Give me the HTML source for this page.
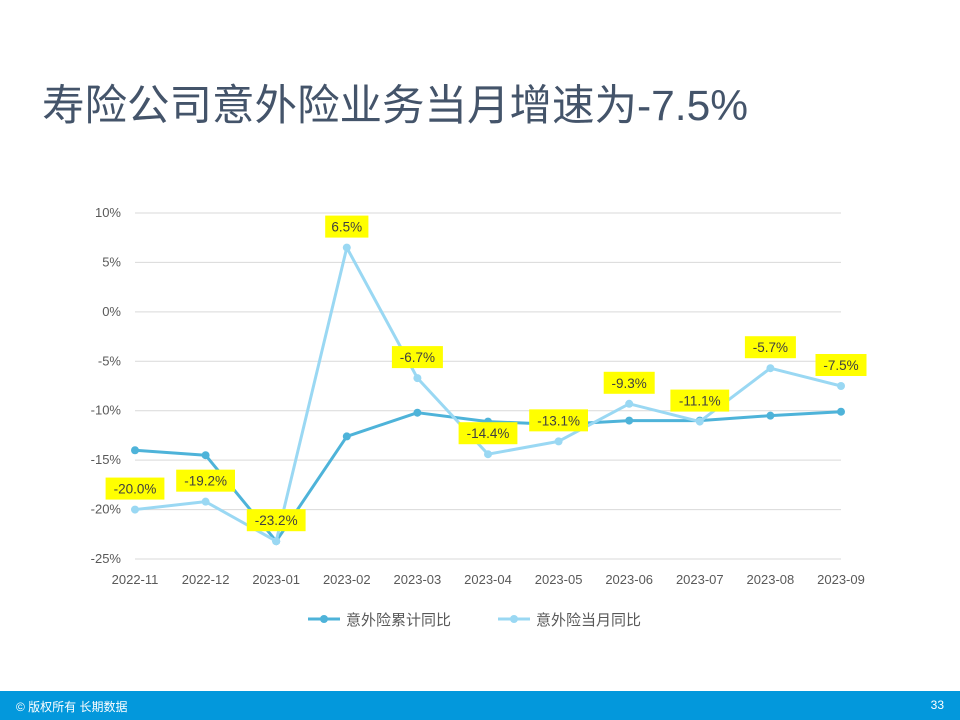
<!DOCTYPE html>
<html><head><meta charset="utf-8"><style>
body{margin:0;width:960px;height:720px;background:#fff;position:relative;overflow:hidden;font-family:"Liberation Sans","Noto Sans CJK SC",sans-serif}
#title{position:absolute;left:42px;top:72px;font-size:42.5px;color:#44546a;white-space:nowrap}
#footer{position:absolute;left:0;top:691px;width:960px;height:29px;background:#0398dc;color:#fff;font-size:12px}
</style></head><body>
<div id="title">寿险公司意外险业务当月增速为-7.5%</div>
<svg id="chart" width="960" height="691" style="position:absolute;left:0;top:0" font-family="Liberation Sans, Noto Sans CJK SC, sans-serif"></svg>
<div id="footer">
<span style="position:absolute;left:16px;top:7px">© 版权所有 长期数据</span>
<span style="position:absolute;right:16px;top:7px">33</span>
</div>
<script>
const categories=["2022-11","2022-12","2023-01","2023-02","2023-03","2023-04","2023-05","2023-06","2023-07","2023-08","2023-09"];
const cumulative=[-14.0,-14.5,-23.2,-12.6,-10.2,-11.1,-11.4,-11.0,-11.0,-10.5,-10.1];
const monthly=[-20.0,-19.2,-23.2,6.5,-6.7,-14.4,-13.1,-9.3,-11.1,-5.7,-7.5];
const yTicks=[10,5,0,-5,-10,-15,-20,-25];
const NS="http://www.w3.org/2000/svg";
const svg=document.getElementById('chart');
const x0=135,x1=841,yTop=213,yBot=559,vMax=10,vMin=-25;
const X=i=>x0+(x1-x0)*i/(categories.length-1);
const Y=v=>yTop+(vMax-v)/(vMax-vMin)*(yBot-yTop);
function el(t,a){const e=document.createElementNS(NS,t);for(const k in a)e.setAttribute(k,a[k]);svg.appendChild(e);return e;}
yTicks.forEach(t=>{
 const g=el('line',{x1:x0,x2:x1,y1:Y(t),y2:Y(t),stroke:'#d9d9d9','stroke-width':1});
 
 
 const l=el('text',{x:121,y:Y(t)+4,'text-anchor':'end','font-size':13,fill:'#595959'});
 l.textContent=t+'%';
 
 
});
categories.forEach((c,i)=>{
 const l=el('text',{x:X(i),y:584,'text-anchor':'middle','font-size':13,fill:'#595959'});
 l.textContent=c;
 
 
});
function series(vals,color,name){
 const p=el('polyline',{points:vals.map((v,i)=>X(i)+','+Y(v)).join(' '),fill:'none',stroke:color,'stroke-width':3,'stroke-linejoin':'round'});
 
 
 vals.forEach((v,i)=>{
  const c=el('circle',{cx:X(i),cy:Y(v),r:4,fill:color});
  
  
 });
}
series(cumulative,'#4eb3d9','cumulative');
series(monthly,'#9ad8f3','monthly');
monthly.forEach((v,i)=>{
 const cy=Y(v)-21;
 const txt=v.toFixed(1)+'%';
 const w=txt.length*7.8+12;
 const r=el('rect',{x:X(i)-w/2,y:cy-11,width:w,height:22,fill:'#ffff00'});
 
 
 const t=el('text',{x:X(i),y:cy+5,'text-anchor':'middle','font-size':13.5,fill:'#404040'});
 t.textContent=txt;
 
 
});
[[308,'#4eb3d9','意外险累计同比','legend-cumulative'],[498,'#9ad8f3','意外险当月同比','legend-monthly']].forEach(([lx,c,txt,n])=>{
 const g=el('g',{});
 
 
 const a=document.createElementNS(NS,'line');a.setAttribute('x1',lx);a.setAttribute('x2',lx+32);a.setAttribute('y1',619);a.setAttribute('y2',619);a.setAttribute('stroke',c);a.setAttribute('stroke-width',3);g.appendChild(a);
 const b=document.createElementNS(NS,'circle');b.setAttribute('cx',lx+16);b.setAttribute('cy',619);b.setAttribute('r',4);b.setAttribute('fill',c);g.appendChild(b);
 const t=document.createElementNS(NS,'text');t.setAttribute('x',lx+38);t.setAttribute('y',625);t.setAttribute('font-size',15);t.setAttribute('fill','#595959');t.textContent=txt;g.appendChild(t);
});
</script>
</body></html>
